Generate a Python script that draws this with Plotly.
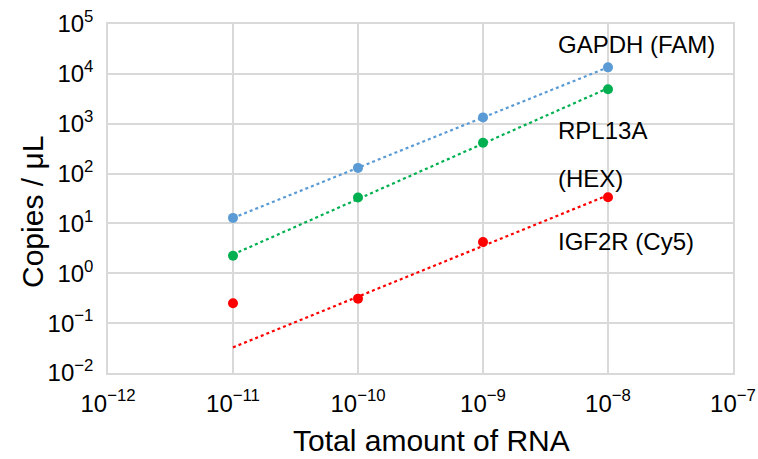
import numpy as np
import plotly.graph_objects as go

# Data
rna_amount = [1e-11, 1e-10, 1e-9, 1e-8]
gapdh = [12.9, 130, 1340, 13500]
rpl13a = [2.25, 33, 415, 4900]
igf2r = [0.25, 0.31, 4.25, 33.6]
series_names = ["GAPDH (FAM)", "RPL13A", "IGF2R (Cy5)"]
colors = ["#5B9BD5", "#00B050", "#FF0000"]
fit_start = [0, 0, 1]  # index of first point used in each trendline fit

x_exps = [-12, -11, -10, -9, -8, -7]
y_exps = [-2, -1, 0, 1, 2, 3, 4, 5]
x_title = "Total amount of RNA"
y_title = "Copies / μL"

FONT = "Liberation Sans, Arial, Noto Sans CJK JP"
W, H = 758, 459
L, R, T, B = 108, 25, 24, 86

fig = go.Figure()
lx = np.log10(rna_amount)
for vals, col, s in zip([gapdh, rpl13a, igf2r], colors, fit_start):
    ly = np.log10(vals)
    k, b = np.polyfit(lx[s:], ly[s:], 1)
    xs = np.array([lx[0], lx[-1]])
    fig.add_trace(go.Scatter(x=10 ** xs, y=10 ** (k * xs + b), mode="lines",
                             line=dict(color=col, width=2.2, dash="dot"),
                             showlegend=False, hoverinfo="skip"))
    fig.add_trace(go.Scatter(x=rna_amount, y=vals, mode="markers",
                             marker=dict(color=col, size=10),
                             showlegend=False))


def sup_labels(exps):
    return ["10<sup>%s</sup>" % str(e).replace("-", "\u2212") for e in exps]


axis_common = dict(type="log", showgrid=True, gridcolor="#D9D9D9", gridwidth=1.5,
                   showline=True, linecolor="#D9D9D9", linewidth=1.5, mirror=True,
                   ticks="", zeroline=False, automargin=False,
                   tickfont=dict(family=FONT, size=24, color="black"))
fig.update_xaxes(range=[-12, -7], tickvals=[10.0 ** e for e in x_exps],
                 ticktext=sup_labels(x_exps), ticklabelstandoff=8, **axis_common)
fig.update_yaxes(range=[-2, 5], tickvals=[10.0 ** e for e in y_exps],
                 ticktext=sup_labels(y_exps), ticklabelstandoff=8, **axis_common)

pw, ph = W - L - R, H - T - B
fig.add_annotation(xref="paper", yref="paper", x=(431 - L) / pw, y=-(H - 1 - (H - B)) / ph,
                   text=x_title, showarrow=False, xanchor="center", yanchor="bottom",
                   borderpad=0,
                   font=dict(family=FONT, size=30, color="black"))
fig.add_annotation(xref="paper", yref="paper", x=-(L - 32) / pw, y=1 - (212 - T) / ph,
                   text=y_title, showarrow=False, textangle=-90,
                   xanchor="center", yanchor="middle",
                   font=dict(family=FONT, size=30, color="black"))

label_pos = [(1e-8, 13500 * 2.9), (1e-8, 740), (1e-8, 80), (1e-8, 4.4)]
label_txt = [series_names[0], "RPL13A", "(HEX)", series_names[2]]
for (xp, yp), t in zip(label_pos, label_txt):
    fig.add_annotation(x=np.log10(xp), y=np.log10(yp), text=t, showarrow=False,
                       xanchor="left", xshift=-52,
                       font=dict(family=FONT, size=24, color="black"))

fig.update_layout(width=W, height=H, plot_bgcolor="white", paper_bgcolor="white",
                  margin=dict(l=L, r=R, t=T, b=B))
fig.write_html("out.html")
